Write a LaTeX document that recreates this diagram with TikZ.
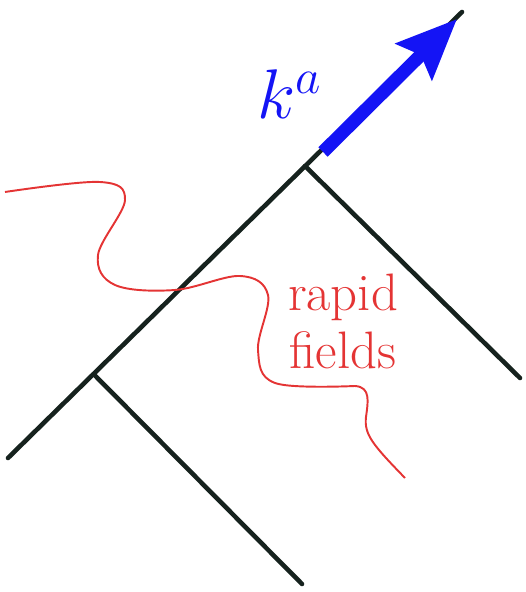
\RequirePackage{fix-cm}
\documentclass[tikz,border=0pt]{standalone}
\usepackage{amsfonts, amsthm, amsmath, amssymb}
\usepackage{tikz}
\usepackage{color}
\usetikzlibrary{arrows.meta}

\definecolor{fieldred}{RGB}{228,52,52}
\definecolor{momblue}{RGB}{20,20,245}
\definecolor{linedark}{RGB}{22,34,30}

\begin{document}
\begin{tikzpicture}[
  ray/.style={draw=linedark, line width=2.6pt, line cap=round},
  wave/.style={draw=fieldred, line width=1.1pt},
  mom/.style={draw=momblue, line width=7.5pt, -{Stealth[length=1.2cm, width=1.0cm, inset=0.18cm]}}
]
\useasboundingbox (0,0) rectangle (10.5,11.84);

\coordinate (low) at (0.16,2.68);
\coordinate (top) at (9.24,11.6);
\coordinate (jlow) at (1.87,4.36);
\coordinate (jup) at (6.1,8.52);
\coordinate (elow) at (6.04,0.16);
\coordinate (eup) at (10.4,4.28);
\coordinate (kstart) at (6.46,8.8);
\coordinate (ktip) at (9.14,11.46);

% light rays
\draw[ray] (low) -- (top);
\draw[ray] (jup) -- (eup);
\draw[ray] (jlow) -- (elow);

% momentum
\draw[mom] (kstart) -- (ktip);
\node[text=momblue, font=\fontsize{40}{44}\selectfont] (klabel) at (5.8,9.95) {$k^a$};

% rapid fields
\draw[wave] plot[smooth, tension=0.6] coordinates {
  (0.1,8.0) (2.0,8.2) (2.5,7.84) (1.96,6.74) (2.3,6.14) (3.5,6.04)
  (4.8,6.32) (5.36,5.94) (5.16,4.84) (5.5,4.18) (7.1,4.12)}
  .. controls (7.42,4.1) and (7.36,3.8) .. (7.32,3.5)
  .. controls (7.28,3.15) and (7.45,2.95) .. (8.1,2.28);
\node[text=fieldred, align=center, font=\fontsize{30}{33}\selectfont] (flabel) at (6.86,5.42) {rapid\\fields};

\end{tikzpicture}
\end{document}
